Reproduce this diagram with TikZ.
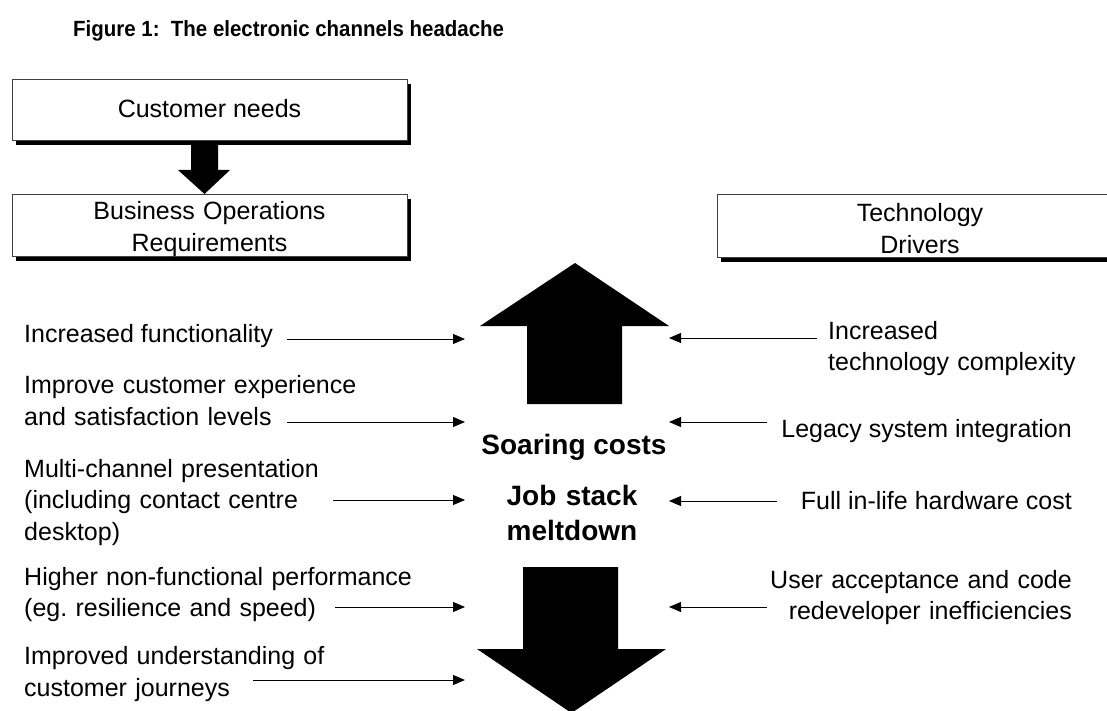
\documentclass[tikz,border=0pt]{standalone}
\usepackage{fontspec}
\setmainfont{Liberation Sans}
\usetikzlibrary{arrows.meta,shadows}
\frenchspacing
\begin{document}
\begin{tikzpicture}[x=1pt,y=-1pt,
  txt/.style={inner sep=0pt, font=\fontsize{25}{31.5}\selectfont},
  bigtxt/.style={inner sep=0pt, font=\fontsize{28}{35}\selectfont\bfseries},
  boxst/.style={draw=black!75, fill=white, line width=0.9pt, inner sep=0pt,
    general shadow={fill=black, shadow xshift=4pt, shadow yshift=-4.5pt}},
  conn/.style={line width=0.9pt, -{Triangle[length=12pt,width=10pt]}},
  blockarrow/.style={fill=black}]
\useasboundingbox (0,0) rectangle (1107,711);
\clip (0,0) rectangle (1107,711);
% title
\node[inner sep=0pt, anchor=base west, font=\fontsize{22}{26}\selectfont\bfseries] (title) at (73,37) {\scalebox{0.93}[1]{Figure 1:\ \ The electronic channels headache}};
% boxes
\node[boxst, anchor=north west, minimum width=395pt, minimum height=61pt] (cnbox) at (12,79) {};
\node[txt, anchor=base] (cn) at (209.5,118) {Customer needs};
\node[boxst, anchor=north west, minimum width=395pt, minimum height=62pt] (bobox) at (12,194) {};
\node[txt, anchor=base, text width=395pt, align=center] (bo) at (209.5,220) {Business Operations\\Requirements};
\node[boxst, anchor=north west, minimum width=406pt, minimum height=63pt] (tdbox) at (717,194) {};
\node[txt, anchor=base, text width=400pt, align=center] (td) at (920,222) {Technology\\Drivers};
% arrow between top boxes
\fill[blockarrow] (191,145) -- (218,145) -- (218,170) -- (230,170) -- (204.5,194) -- (178,170) -- (191,170) -- cycle;
% big up and down arrows
\fill[blockarrow] (575,263) -- (669,326) -- (622,326) -- (622,404) -- (527,404) -- (527,326) -- (480,326) -- cycle;
\fill[blockarrow] (523,567) -- (618,567) -- (618,649) -- (666,649) -- (571.5,713) -- (477,649) -- (523,649) -- cycle;
% centre texts
\node[bigtxt, anchor=base] (soar) at (574,454) {Soaring costs};
\node[bigtxt, anchor=base, text width=200pt, align=center] (job) at (572,505) {Job stack\\meltdown};
% left texts
\node[txt, anchor=base west] (l1) at (24,342) {Increased functionality};
\node[txt, anchor=base west, text width=400pt, align=left] (l2) at (24,393.5) {Improve customer experience\\and satisfaction levels};
\node[txt, anchor=base west, text width=400pt, align=left] (l3) at (24,477) {Multi-channel presentation\\(including contact centre\\desktop)};
\node[txt, anchor=base west, text width=400pt, align=left] (l4) at (24,585) {Higher non-functional performance\\(eg. resilience and speed)};
\node[txt, anchor=base west, text width=400pt, align=left] (l5) at (24,664.5) {Improved understanding of\\customer journeys};
% right texts
\node[txt, anchor=base west, text width=300pt, align=left] (r1) at (828,339) {Increased\\technology complexity};
\node[txt, anchor=base east] (r2) at (1072,437.5) {Legacy system integration};
\node[txt, anchor=base east] (r3) at (1072,509.5) {Full in-life hardware cost};
\node[txt, anchor=base east, text width=350pt, align=right] (r4) at (1072,588) {User acceptance and code\\redeveloper inefficiencies};
% connector coordinates
\coordinate (l1s) at (287,339); \coordinate (l1e) at (465,339);
\coordinate (l2s) at (287,422); \coordinate (l2e) at (465,422);
\coordinate (l3s) at (333,500); \coordinate (l3e) at (465,500);
\coordinate (l4s) at (335,607); \coordinate (l4e) at (465,607);
\coordinate (l5s) at (253,680); \coordinate (l5e) at (465,680);
\coordinate (r1s) at (817,338); \coordinate (r1e) at (669,338);
\coordinate (r2s) at (767,422); \coordinate (r2e) at (669,422);
\coordinate (r3s) at (777,501); \coordinate (r3e) at (669,501);
\coordinate (r4s) at (767,607); \coordinate (r4e) at (669,607);
\foreach \c in {l1,l2,l3,l4,l5,r1,r2,r3,r4}{\draw[conn] (\c s) -- (\c e);}
\end{tikzpicture}
\end{document}
